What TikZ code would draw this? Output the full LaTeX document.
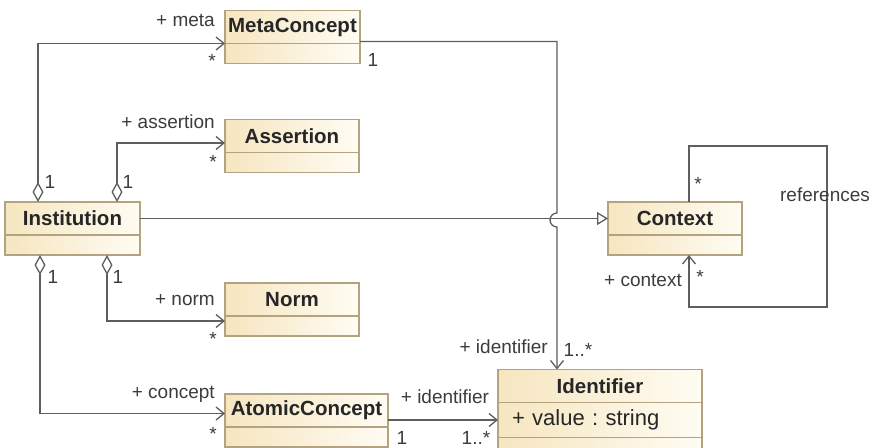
\documentclass[tikz,border=0pt]{standalone}
\usepackage{fontspec}
\setmainfont{Liberation Sans}
\usetikzlibrary{arrows.meta,positioning,calc}

\definecolor{boxline}{HTML}{B3A381}
\definecolor{boxdark}{HTML}{F6E6C0}
\definecolor{boxlight}{HTML}{FFFCF3}
\definecolor{wire}{HTML}{5E5E5E}
\definecolor{labeltext}{HTML}{3C3C3C}

\tikzset{
  classhead/.style={draw=boxline, line width=1.2pt, left color=boxdark, right color=boxlight,
    inner sep=0pt, outer sep=0pt, minimum height=33pt,
    font=\fontsize{20.5}{23}\selectfont\bfseries, text=black!85},
  classpart/.style={classhead, minimum height=20pt, font=\fontsize{19}{22}\selectfont},
  assoc/.style={draw=wire, line width=1.3pt},
  navend/.style={assoc, -{Straight Barb[length=8pt,width=13pt]}},
  aggr/.style={assoc, {Diamond[open,length=20pt,width=11pt]}-{Straight Barb[length=8pt,width=13pt]}},
  genend/.style={assoc, -{Triangle[open,length=11pt,width=13pt]}},
  role/.style={text=labeltext, font=\fontsize{19}{22}\selectfont, inner sep=0pt},
}

\begin{document}
\begin{tikzpicture}[x=1pt, y=-1pt]
  \useasboundingbox (0,0) rectangle (875,447);
  \clip (0,0) rectangle (875,447);

  % classes: name compartment + empty compartment
  \node[classhead, minimum width=135pt] (meta) at (292.5,27) {MetaConcept};
  \node[classpart, minimum width=135pt, below=0pt of meta] (metab) {};

  \node[classhead, minimum width=134pt] (asrt) at (292,136) {Assertion};
  \node[classpart, minimum width=134pt, below=0pt of asrt] (asrtb) {};

  \node[classhead, minimum width=135pt] (inst) at (72.5,218.5) {Institution};
  \node[classpart, minimum width=135pt, below=0pt of inst] (instb) {};

  \node[classhead, minimum width=134pt] (norm) at (292,299.5) {Norm};
  \node[classpart, minimum width=134pt, below=0pt of norm] (normb) {};

  \node[classhead, minimum width=163pt] (atom) at (306.5,410.5) {AtomicConcept};
  \node[classpart, minimum width=163pt, below=0pt of atom] (atomb) {};

  \node[classhead, minimum width=134pt] (ctx) at (675,218.5) {Context};
  \node[classpart, minimum width=134pt, below=0pt of ctx] (ctxb) {};

  \node[classhead, minimum width=204pt] (ident) at (600,386) {Identifier};
  \node[classpart, minimum width=204pt, minimum height=35pt, text width=176pt, align=left,
        font=\fontsize{22}{24}\selectfont, below=0pt of ident] (identv) {+ value :\ string};
  \node[classpart, minimum width=204pt, below=0pt of identv] (idento) {};

  % aggregations out of Institution
  \coordinate (aggA) at (38,0);
  \coordinate (aggB) at (117,0);
  \coordinate (aggC) at (40,0);
  \coordinate (aggD) at (107,0);
  \draw[aggr] (inst.north -| aggA) |- (meta.south west);
  \draw[aggr] (inst.north -| aggB) |- ($(asrt.west)+(0,7)$);
  \draw[aggr] (instb.south -| aggC) |- ($(atom.west)+(0,3)$);
  \draw[aggr] (instb.south -| aggD) |- ($(normb.west)+(0,-5)$);

  % generalisation
  \draw[genend] (inst.east) -- (ctx.west);

  % MetaConcept -> Identifier, hopping over the line above
  \coordinate (hop) at (557,220);
  \draw[navend] ($(meta.south east)+(0,-2)$) -| ($(hop)+(0,-7)$)
    arc[start angle=270, end angle=90, radius=7] -- (ident.north -| hop);

  \draw[navend] (identv.west -| atom.east) -- (identv.west);

  % Context references itself
  \coordinate (loopx) at (689,0);
  \coordinate (loopne) at (827,146);
  \coordinate (loopse) at (827,307);
  \draw[navend] (ctx.north -| loopx) |- (loopne) -- (loopse) -| (ctxb.south -| loopx);

  % role names and multiplicities
  \node[role, anchor=east] (rmeta) at (215,20) {+ meta};
  \node[role] (mmeta) at (212,61) {*};
  \node[role] (mmetaone) at (373,60) {1};
  \node[role, anchor=east] (rasrt) at (215,122) {+ assertion};
  \node[role] (masrt) at (213,162) {*};
  \node[role] (minstA) at (50,182) {1};
  \node[role] (minstB) at (128,182) {1};
  \node[role] (minstC) at (53,277) {1};
  \node[role] (minstD) at (118,277) {1};
  \node[role, anchor=east] (rnorm) at (215,300) {+ norm};
  \node[role] (mnorm) at (213,339) {*};
  \node[role, anchor=east] (ratom) at (215,394) {+ concept};
  \node[role] (matom) at (213,434) {*};
  \node[role] (ridentA) at (445,397) {+ identifier};
  \node[role] (matomone) at (402,438) {1};
  \node[role] (midentA) at (476,438) {1..*};
  \node[role, anchor=east] (ridentB) at (548,347) {+ identifier};
  \node[role] (midentB) at (578,350) {1..*};
  \node[role, anchor=east] (rctx) at (682,280) {+ context};
  \node[role] (mctxA) at (700,277) {*};
  \node[role] (mctxB) at (698,184) {*};
  \node[role] (rrefs) at (825,195) {references};
\end{tikzpicture}
\end{document}
